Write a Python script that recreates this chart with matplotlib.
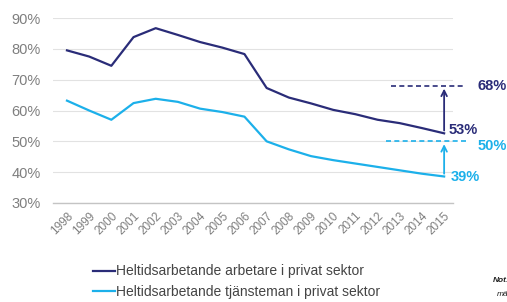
import matplotlib
matplotlib.use("Agg")
import matplotlib.pyplot as plt

plt.rcParams['font.family'] = ['Liberation Sans', 'DejaVu Sans']

years = list(range(1998, 2016))
arbetare = [79.5, 77.5, 74.5, 83.8, 86.7, 84.5, 82.2, 80.4, 78.3, 67.3,
            64.2, 62.3, 60.2, 58.8, 57.0, 55.9, 54.3, 52.6]
tjansteman = [63.2, 60.0, 57.0, 62.4, 63.8, 62.8, 60.6, 59.5, 58.0, 50.0,
              47.4, 45.2, 43.9, 42.8, 41.7, 40.6, 39.5, 38.6]
label_arb = 'Heltidsarbetande arbetare i privat sektor'
label_tj = 'Heltidsarbetande tjänsteman i privat sektor'
target_arb = 68
target_tj = 50
end_labels = ['53%', '39%']

dark = '#2a2c78'
light = '#1cb0ea'
grey = '#7f7f7f'

fig = plt.figure(figsize=(5.07, 3.02), dpi=100)
ax = fig.add_axes([53/507, 1-203/302, 400/507, 185/302])

ax.plot(years, arbetare, color=dark, lw=1.6, label=label_arb)
ax.plot(years, tjansteman, color=light, lw=1.6, label=label_tj)

ax.set_xlim(1997.37, 2015.4)
ax.set_ylim(30, 90)
ax.set_yticks(range(30, 91, 10))
ax.set_yticklabels([f'{v}%' for v in range(30, 91, 10)], color=grey, fontsize=10.5)
ax.set_xticks(years)
ax.set_xticklabels([str(y) for y in years], rotation=45, ha='right',
                   rotation_mode='anchor', color=grey, fontsize=8.5)
ax.tick_params(axis='y', length=0, pad=9)
ax.tick_params(axis='x', length=0, pad=5)
ax.grid(axis='y', color='#e2e2e2', lw=0.8)
for s in ax.spines.values():
    s.set_visible(False)
ax.spines['bottom'].set_visible(True)
ax.spines['bottom'].set_color('#c4c4c4')
ax.spines['bottom'].set_linewidth(1.0)

# targets with arrows
last = years[-1]
ax.plot([2012.6, 2016.0], [target_arb, target_arb], color=dark, lw=1.2,
        ls=(0, (3, 2)), clip_on=False)
ax.annotate('', xy=(last, target_arb), xytext=(last, arbetare[-1]),
            arrowprops=dict(arrowstyle='->', color=dark, lw=1.3), annotation_clip=False)
ax.plot([2012.4, 2016.0], [target_tj, target_tj], color=light, lw=1.2,
        ls=(0, (3, 2)), clip_on=False)
ax.annotate('', xy=(last, target_tj), xytext=(last, tjansteman[-1]),
            arrowprops=dict(arrowstyle='->', color=light, lw=1.3), annotation_clip=False)

ax.text(2016.5, target_arb, f'{target_arb}%', color=dark, fontsize=10.5,
        fontweight='bold', va='center', ha='left', clip_on=False)
ax.text(last + 0.2, arbetare[-1] + 1.2, end_labels[0], color=dark, fontsize=10.5,
        fontweight='bold', va='center', ha='left', clip_on=False)
ax.text(2016.5, target_tj - 1.5, f'{target_tj}%', color=light, fontsize=10.5,
        fontweight='bold', va='center', ha='left', clip_on=False)
ax.text(last + 0.3, tjansteman[-1] - 0.3, end_labels[1], color=light, fontsize=10.5,
        fontweight='bold', va='center', ha='left', clip_on=False)

fig.legend(loc='upper left', bbox_to_anchor=(80/507, 1-252/302), frameon=False,
           fontsize=10, handlelength=1.6, handletextpad=0.1, labelspacing=0.45,
           labelcolor='#444444')

fig.text(493/507, 1-282/302, 'Not:', fontsize=6, fontweight='bold', style='italic',
         color='#222222')
fig.text(497/507, 1-296/302, 'mä', fontsize=6, style='italic', color='#222222')

fig.savefig('out.png', dpi=100)
